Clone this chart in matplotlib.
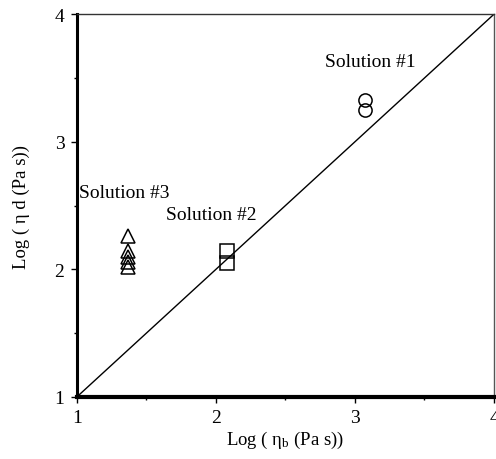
import matplotlib
matplotlib.use("Agg")
import matplotlib.pyplot as plt
from matplotlib.ticker import MultipleLocator

plt.rcParams["font.family"] = ["Liberation Serif", "DejaVu Serif"]
plt.rcParams["mathtext.fontset"] = "custom"
plt.rcParams["mathtext.rm"] = "Liberation Serif"
plt.rcParams["mathtext.it"] = "Liberation Serif:italic"
plt.rcParams["mathtext.bf"] = "Liberation Serif:bold"

# Log viscosities: bulk (x) vs. drop (y)
sol1_x = [3.07, 3.07]
sol1_y = [3.33, 3.25]
sol2_x = [2.08, 2.08]
sol2_y = [2.14, 2.05]
sol3_x = [1.37, 1.37, 1.37, 1.37, 1.37]
sol3_y = [2.26, 2.14, 2.10, 2.06, 2.02]
parity = [1, 4]

labels = ["Solution #1", "Solution #2", "Solution #3"]
label_xy = [(3.11, 3.63), (1.97, 2.43), (1.34, 2.60)]
ticks = [1, 2, 3, 4]

fig = plt.figure(figsize=(4.96, 4.6), dpi=100)
ax = fig.add_axes([0.155, 0.135, 0.841, 0.832])

ax.plot(parity, parity, color="black", lw=1.0)
ax.plot(sol1_x, sol1_y, ls="none", marker="o", ms=9.5, mfc="none", mec="black", mew=1.1)
ax.plot(sol2_x, sol2_y, ls="none", marker="s", ms=10.5, mfc="none", mec="black", mew=1.1)
ax.plot(sol3_x, sol3_y, ls="none", marker="^", ms=9.5, mfc="none", mec="black", mew=1.1)

for txt, (tx, ty) in zip(labels, label_xy):
    ax.text(tx, ty, txt, ha="center", va="center", fontsize=14)

ax.set_xlim(1, 4)
ax.set_ylim(1, 4)
ax.set_xticks(ticks)
ax.set_yticks(ticks)
ax.xaxis.set_minor_locator(MultipleLocator(0.5))
ax.yaxis.set_minor_locator(MultipleLocator(0.5))
ax.tick_params(which="major", direction="out", length=4, width=1, labelsize=14, pad=5)
ax.tick_params(which="minor", direction="out", length=2.5, width=1)

for side, w in [("left", 2.2), ("bottom", 3.0), ("top", 1.0), ("right", 1.0)]:
    ax.spines[side].set_linewidth(w)
ax.spines["top"].set_color("#333333")
ax.spines["right"].set_color("#555555")

ax.set_xlabel("Log ( η$_{\\rm b}$ (Pa s))", fontsize=13.5, labelpad=2)
ax.set_ylabel("Log ( η d (Pa s))", fontsize=13.5, labelpad=18)

fig.savefig("out.png", dpi=100)
